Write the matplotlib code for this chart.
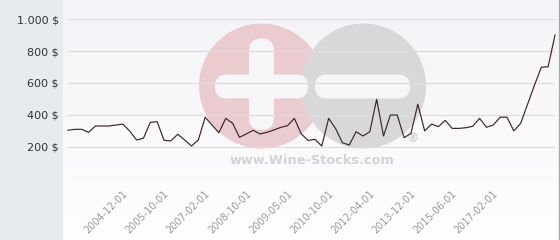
import numpy as np
import matplotlib.pyplot as plt
import matplotlib.transforms as mtransforms
from matplotlib.patches import Rectangle, Circle, FancyBboxPatch
from matplotlib.lines import Line2D
from matplotlib.ticker import FuncFormatter

# price per bottle, one value per listing
prices = [302, 308, 308, 289, 329, 329, 329, 335, 341, 297,
          241, 252, 352, 356, 239, 235, 277, 241, 203, 241,
          384, 335, 287, 377, 346, 258, 279, 302, 279, 289,
          304, 320, 331, 377, 280, 238, 245, 203, 377, 314,
          224, 209, 293, 266, 293, 497, 266, 398, 398, 255,
          283, 466, 298, 341, 325, 364, 314, 314, 318, 327,
          377, 321, 335, 384, 384, 298, 346, 465, 585, 698,
          702, 901]
tick_pos = [8, 14, 20, 26, 32, 38, 44, 50, 56, 62]
tick_labels = ['2004-12-01', '2005-10-01', '2007-02-01', '2008-10-01',
               '2009-05-01', '2010-10-01', '2012-04-01', '2013-12-01',
               '2015-06-01', '2017-02-01']
y_ticks = [0, 200, 400, 600, 800, 1000]

W, H = 560, 240
fig = plt.figure(figsize=(W / 100, H / 100), dpi=100)
fig.patch.set_facecolor('white')

# left grey band
fig.patches.append(Rectangle((0, 0), 63 / W, 1, transform=fig.transFigure,
                             facecolor='#e7ebee', edgecolor='none', zorder=0))

# plot background with a light vertical gradient
bg = fig.add_axes([63 / W, 0, (558 - 63) / W, 1], zorder=0)
grad = np.linspace(0, 1, 100).reshape(-1, 1)
bg.imshow(grad, aspect='auto', cmap=plt.matplotlib.colors.LinearSegmentedColormap.from_list(
    'bgc', ['#f4f4f8', '#fefefe']), extent=[0, 1, 0, 1], origin='upper')
bg.axis('off')

# watermark, drawn in pixel units
wm = fig.add_axes([0, 0, 1, 1], zorder=1)
wm.set_xlim(0, W)
wm.set_ylim(H, 0)
wm.axis('off')
wm.patch.set_alpha(0)
wm.add_patch(Circle((261.5, 86), 62.5, facecolor='#eacbd0', edgecolor='none'))
wm.add_patch(Circle((363.5, 86), 62.5, facecolor='#d8d8da', edgecolor='none'))
bar_col = '#f6f6f8'
wm.add_patch(FancyBboxPatch((249, 38.5), 25, 91.5, boxstyle='round,pad=0,rounding_size=12.5',
                            facecolor=bar_col, edgecolor='none'))
wm.add_patch(FancyBboxPatch((215, 74.5), 93, 24, boxstyle='round,pad=0,rounding_size=12',
                            facecolor=bar_col, edgecolor='none'))
wm.add_patch(FancyBboxPatch((315, 74.5), 95, 24, boxstyle='round,pad=0,rounding_size=12',
                            facecolor=bar_col, edgecolor='none'))
wm.text(312, 161, 'www.Wine-Stocks.com', ha='center', va='center', fontsize=9.3,
        fontweight='bold', color='#d3d3d5')
wm.text(413, 139, '®', ha='center', va='center', fontsize=9, fontweight='bold', color='#d4d4d6')

# main chart
ax = fig.add_axes([68 / W, 1 - 178.3 / H, (555 - 68) / W, (178.3 - 19.3) / H], zorder=2)
ax.patch.set_alpha(0)
x = np.arange(len(prices))
ax.plot(x, prices, color='#3a2430', linewidth=0.85, clip_on=False, zorder=3)
ax.set_xlim(0, len(prices) - 1)
ax.set_ylim(0, 1000)
ax.set_yticks(y_ticks)
ax.yaxis.set_major_formatter(FuncFormatter(
    lambda v, p: '' if v == 0 else f'{int(v):,} $'.replace(',', '.')))
ax.grid(axis='y', color='#dcdce0', linewidth=0.9)
ax.set_axisbelow(True)
ax.set_xticks(tick_pos)
ax.set_xticklabels(tick_labels, rotation=45, ha='right', va='center',
                   rotation_mode='anchor', fontsize=7, color='#9a9a9a')
ax.tick_params(axis='x', length=0, pad=10)
ax.tick_params(axis='y', length=0, pad=6.5, labelsize=8, labelcolor='#333333')
shift = mtransforms.ScaledTranslation(3 / 100, 0, fig.dpi_scale_trans)
for lbl in ax.get_xticklabels():
    lbl.set_transform(lbl.get_transform() + shift)
for s in ax.spines.values():
    s.set_visible(False)

# right border
fig.lines.append(Line2D([558.5 / W] * 2, [0, 1], transform=fig.transFigure,
                        color='#a8a8a8', linewidth=1))

fig.savefig('out.png', dpi=100)
